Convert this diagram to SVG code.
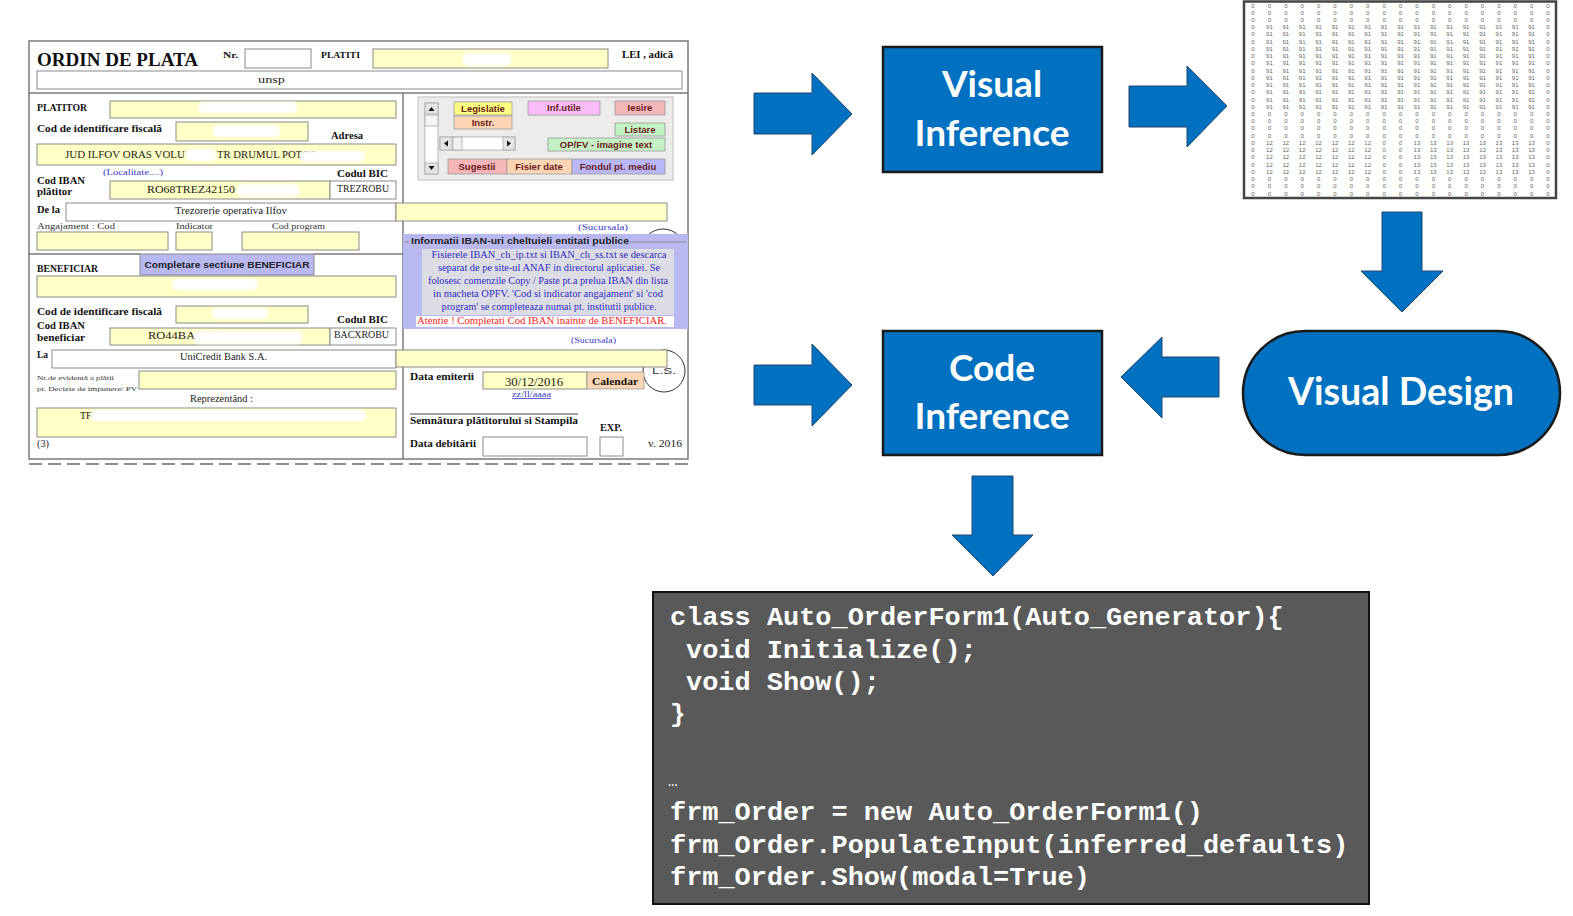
<svg xmlns="http://www.w3.org/2000/svg" width="1573" height="916" viewBox="0 0 1573 916">
<style>
.lbl{font-family:"Liberation Serif",serif;font-weight:bold;font-size:10.5px;fill:#111}
.txt{font-family:"Liberation Serif",serif;font-size:10px;fill:#222}
.sm{font-family:"Liberation Serif",serif;font-size:8.5px;fill:#333}
.blue{font-family:"Liberation Serif",serif;font-size:8.5px;fill:#3636c8}
.yf{fill:#ffffc6;stroke:#8a8a8a;stroke-width:1}
.wf{fill:#fff;stroke:#8a8a8a;stroke-width:1}
.frame{fill:none;stroke:#7a7a7a;stroke-width:1.5}
.patch{fill:#fff;filter:url(#blur)}
.btn{stroke:#9a9a9a;stroke-width:0.8}
.bt{font-family:"Liberation Sans",sans-serif;font-weight:bold;font-size:9.5px;fill:#6a1b1b;text-anchor:middle}
.it{font-family:"Liberation Serif",serif;font-size:9.3px;fill:#2e2ec4;text-anchor:middle}
.arrow{fill:#0070c0;stroke:#24466e;stroke-width:1}
.node{fill:#0070c0;stroke:#1a1a1a;stroke-width:2.5}
.ntxt{font-family:Lato,"Open Sans",sans-serif;font-weight:bold;font-size:37px;fill:#fff;text-anchor:middle}
.code{font-family:"Liberation Mono",monospace;font-size:26px;font-weight:bold;fill:#fff}
.mx{font-family:"Liberation Sans",sans-serif;font-size:6px;fill:#666;text-anchor:middle}
</style>
<defs>
<filter id="blur" x="-20%" y="-50%" width="140%" height="200%"><feGaussianBlur stdDeviation="1.2"/></filter>
<g id="rz" class="mx">
<text x="1253">0</text><text x="1269.4">0</text><text x="1285.8">0</text><text x="1302.2">0</text><text x="1318.6">0</text><text x="1335">0</text><text x="1351.3">0</text><text x="1367.7">0</text><text x="1384.1">0</text><text x="1400.5">0</text><text x="1416.9">0</text><text x="1433.3">0</text><text x="1449.7">0</text><text x="1466.1">0</text><text x="1482.5">0</text><text x="1498.9">0</text><text x="1515.2">0</text><text x="1531.6">0</text><text x="1548">0</text>
</g>
<g id="r91" class="mx">
<text x="1253">0</text><text x="1269.4">91</text><text x="1285.8">91</text><text x="1302.2">91</text><text x="1318.6">91</text><text x="1335">91</text><text x="1351.3">91</text><text x="1367.7">91</text><text x="1384.1">91</text><text x="1400.5">91</text><text x="1416.9">91</text><text x="1433.3">91</text><text x="1449.7">91</text><text x="1466.1">91</text><text x="1482.5">91</text><text x="1498.9">91</text><text x="1515.2">91</text><text x="1531.6">91</text><text x="1548">0</text>
</g>
<g id="r12" class="mx">
<text x="1253">0</text><text x="1269.4">12</text><text x="1285.8">12</text><text x="1302.2">12</text><text x="1318.6">12</text><text x="1335">12</text><text x="1351.3">12</text><text x="1367.7">12</text><text x="1384.1">0</text><text x="1400.5">0</text><text x="1416.9">13</text><text x="1433.3">13</text><text x="1449.7">13</text><text x="1466.1">13</text><text x="1482.5">13</text><text x="1498.9">13</text><text x="1515.2">13</text><text x="1531.6">13</text><text x="1548">0</text>
</g>
</defs>
<rect width="1573" height="916" fill="#fff"/>

<!-- Payment order form screenshot -->
<g id="form">
  <rect x="29" y="41" width="659" height="418" fill="#fff" class="frame"/>
  <line x1="29" y1="93" x2="688" y2="93" stroke="#7a7a7a" stroke-width="1.5"/>
  <line x1="403" y1="93" x2="403" y2="459" stroke="#7a7a7a" stroke-width="1.5"/>
  <line x1="29" y1="254" x2="140" y2="254" stroke="#7a7a7a" stroke-width="1.5"/>
  <line x1="314" y1="254" x2="403" y2="254" stroke="#7a7a7a" stroke-width="1.5"/>
  <line x1="29" y1="464" x2="688" y2="464" stroke="#6a6a6a" stroke-width="1.5" stroke-dasharray="13 6"/>

  <!-- header -->
  <text x="37" y="66" font-family="Liberation Serif, serif" font-weight="bold" font-size="18.7" fill="#111" textLength="161" lengthAdjust="spacingAndGlyphs">ORDIN DE PLATA</text>
  <text x="223" y="58" class="lbl" style="font-size:9px" textLength="15" lengthAdjust="spacingAndGlyphs">Nr.</text>
  <rect x="245" y="49" width="66" height="19" class="wf"/>
  <text x="321" y="58" class="lbl" style="font-size:9px" textLength="39" lengthAdjust="spacingAndGlyphs">PLATITI</text>
  <rect x="373" y="49" width="235" height="19" class="yf"/>
  <rect x="463" y="53" width="48" height="13" rx="5" class="patch"/>
  <text x="622" y="58" class="lbl" style="font-size:9.5px" textLength="51" lengthAdjust="spacingAndGlyphs">LEI , adică</text>
  <rect x="37" y="71" width="645" height="18" class="wf"/>
  <text x="258" y="83" class="txt" textLength="27" lengthAdjust="spacingAndGlyphs">unsp</text>

  <!-- platitor -->
  <text x="37" y="111" class="lbl" textLength="50" lengthAdjust="spacingAndGlyphs">PLATITOR</text>
  <rect x="110" y="101" width="286" height="17" class="yf"/>
  <rect x="198" y="102" width="99" height="11" rx="5" class="patch"/>
  <text x="37" y="132" class="lbl" textLength="125" lengthAdjust="spacingAndGlyphs">Cod de identificare fiscală</text>
  <rect x="176" y="122" width="132" height="19" class="yf"/>
  <rect x="213" y="125" width="67" height="12" rx="5" class="patch"/>
  <text x="331" y="139" class="lbl" textLength="32" lengthAdjust="spacingAndGlyphs">Adresa</text>
  <rect x="37" y="144" width="359" height="21" class="yf"/>
  <text x="65" y="158" class="txt" textLength="120" lengthAdjust="spacingAndGlyphs">JUD ILFOV ORAS VOLU</text>
  <text x="217" y="158" class="txt" textLength="100" lengthAdjust="spacingAndGlyphs">TR DRUMUL POTCO</text>
  <rect x="186" y="149" width="30" height="12" rx="5" class="patch"/>
  <rect x="300" y="151" width="65" height="11" rx="5" class="patch"/>
  <text x="103" y="175" class="blue" textLength="60" lengthAdjust="spacingAndGlyphs">(Localitate....)</text>
  <text x="37" y="184" class="lbl" textLength="48" lengthAdjust="spacingAndGlyphs">Cod IBAN</text>
  <text x="37" y="195" class="lbl" textLength="35" lengthAdjust="spacingAndGlyphs">plătitor</text>
  <text x="337" y="177" class="lbl" textLength="51" lengthAdjust="spacingAndGlyphs">Codul BIC</text>
  <rect x="110" y="181" width="220" height="18" class="yf"/>
  <text x="147" y="193" class="txt" textLength="88" lengthAdjust="spacingAndGlyphs">RO68TREZ42150</text>
  <rect x="237" y="184" width="62" height="13" rx="5" class="patch"/>
  <rect x="330" y="181" width="66" height="18" class="wf"/>
  <text x="337" y="192" class="txt" textLength="52" lengthAdjust="spacingAndGlyphs">TREZROBU</text>
  <text x="37" y="213" class="lbl" textLength="23" lengthAdjust="spacingAndGlyphs">De la</text>
  <rect x="66" y="203" width="330" height="18" class="wf"/>
  <text x="175" y="214" class="txt" textLength="112" lengthAdjust="spacingAndGlyphs">Trezorerie operativa Ilfov</text>
  <rect x="396" y="203" width="271" height="18" class="yf"/>
  <text x="37" y="229" class="sm" textLength="78" lengthAdjust="spacingAndGlyphs">Angajament :  Cod</text>
  <text x="176" y="229" class="sm" textLength="37" lengthAdjust="spacingAndGlyphs">Indicator</text>
  <text x="272" y="229" class="sm" textLength="53" lengthAdjust="spacingAndGlyphs">Cod program</text>
  <rect x="37" y="232" width="131" height="18" class="yf"/>
  <rect x="176" y="232" width="36" height="18" class="yf"/>
  <rect x="242" y="232" width="117" height="18" class="yf"/>

  <!-- beneficiar -->
  <text x="37" y="272" class="lbl" textLength="61" lengthAdjust="spacingAndGlyphs">BENEFICIAR</text>
  <rect x="140" y="254" width="174" height="21" fill="#b9b9f2" stroke="#8a8a8a"/>
  <text x="227" y="268" class="bt" style="fill:#222" textLength="165" lengthAdjust="spacingAndGlyphs">Completare sectiune BENEFICIAR</text>
  <rect x="37" y="276" width="359" height="21" class="yf"/>
  <rect x="172" y="279" width="86" height="11" rx="5" class="patch"/>
  <text x="37" y="315" class="lbl" textLength="125" lengthAdjust="spacingAndGlyphs">Cod de identificare fiscală</text>
  <rect x="176" y="306" width="132" height="17" class="yf"/>
  <rect x="212" y="308" width="56" height="11" rx="5" class="patch"/>
  <text x="337" y="323" class="lbl" textLength="51" lengthAdjust="spacingAndGlyphs">Codul BIC</text>
  <text x="37" y="329" class="lbl" textLength="48" lengthAdjust="spacingAndGlyphs">Cod IBAN</text>
  <text x="37" y="341" class="lbl" textLength="48" lengthAdjust="spacingAndGlyphs">beneficiar</text>
  <rect x="110" y="328" width="220" height="17" class="yf"/>
  <text x="148" y="339" class="txt" textLength="77" lengthAdjust="spacingAndGlyphs">RO44BACX00</text>
  <rect x="194" y="331" width="108" height="13" rx="5" class="patch"/>
  <rect x="330" y="328" width="66" height="17" class="wf"/>
  <text x="334" y="338" class="txt" textLength="55" lengthAdjust="spacingAndGlyphs">BACXROBU</text>
  <text x="37" y="358" class="lbl" textLength="11" lengthAdjust="spacingAndGlyphs">La</text>
  <rect x="52" y="350" width="344" height="18" class="wf"/>
  <text x="180" y="360" class="txt" textLength="87" lengthAdjust="spacingAndGlyphs">UniCredit Bank S.A.</text>
  <text x="37" y="380" class="sm" style="font-size:7px" textLength="77" lengthAdjust="spacingAndGlyphs">Nr.de evidentă a plătii</text>
  <text x="37" y="391" class="sm" style="font-size:7px" textLength="100" lengthAdjust="spacingAndGlyphs">pt. Decizie de impunere/ PV</text>
  <rect x="139" y="371" width="257" height="18" class="yf"/>
  <text x="190" y="402" class="txt" textLength="63" lengthAdjust="spacingAndGlyphs">Reprezentând :</text>
  <rect x="37" y="408" width="359" height="29" class="yf"/>
  <text x="80" y="419" class="txt">TF</text>
  <rect x="91" y="410" width="275" height="11" rx="5" class="patch"/>
  <text x="37" y="447" class="txt" textLength="12" lengthAdjust="spacingAndGlyphs">(3)</text>

  <!-- right side: button panel -->
  <rect x="418" y="97" width="255" height="83" fill="#ececec" stroke="#bdbdbd"/>
  <rect x="425" y="103" width="13" height="71" fill="#fff" stroke="#a8a8a8" stroke-width="0.8"/>
  <rect x="425" y="103" width="13" height="11" fill="#e4e4e4" stroke="#a8a8a8" stroke-width="0.8"/>
  <path d="M428.5,111 L431.5,107 L434.5,111 Z" fill="#111"/>
  <rect x="425" y="115" width="13" height="11" fill="#f6f6f6" stroke="#a8a8a8" stroke-width="0.8"/>
  <rect x="425" y="163" width="13" height="11" fill="#e4e4e4" stroke="#a8a8a8" stroke-width="0.8"/>
  <path d="M428.5,166 L431.5,170 L434.5,166 Z" fill="#111"/>
  <rect x="440" y="137" width="75" height="13" fill="#fff" stroke="#a8a8a8" stroke-width="0.8"/>
  <rect x="440" y="137" width="12" height="13" fill="#e4e4e4" stroke="#a8a8a8" stroke-width="0.8"/>
  <path d="M448,140.5 L444,143.5 L448,146.5 Z" fill="#111"/>
  <rect x="453" y="137" width="9" height="13" fill="#f2f2f2" stroke="#a8a8a8" stroke-width="0.8"/>
  <rect x="503" y="137" width="12" height="13" fill="#e4e4e4" stroke="#a8a8a8" stroke-width="0.8"/>
  <path d="M507,140.5 L511,143.5 L507,146.5 Z" fill="#111"/>
  <rect x="454" y="102" width="58" height="13" fill="#ffff80" class="btn"/>
  <text x="483" y="112" class="bt">Legislatie</text>
  <rect x="454" y="116" width="58" height="13" fill="#fcd5b4" class="btn"/>
  <text x="483" y="126" class="bt">Instr.</text>
  <rect x="528" y="101" width="72" height="14" fill="#f8bdf8" class="btn"/>
  <text x="564" y="111" class="bt">Inf.utile</text>
  <rect x="615" y="101" width="50" height="14" fill="#f4b6b6" class="btn"/>
  <text x="640" y="111" class="bt">Iesire</text>
  <rect x="615" y="123" width="50" height="13" fill="#c4f2c4" class="btn"/>
  <text x="640" y="133" class="bt">Listare</text>
  <rect x="548" y="138" width="117" height="13" fill="#c4f2c4" class="btn"/>
  <text x="606" y="148" class="bt">OP/FV - imagine text</text>
  <rect x="448" y="159" width="59" height="15" fill="#f4b6b6" class="btn"/>
  <text x="477" y="170" class="bt">Sugestii</text>
  <rect x="507" y="159" width="65" height="15" fill="#fcd5b4" class="btn"/>
  <text x="539" y="170" class="bt">Fisier date</text>
  <rect x="572" y="159" width="93" height="15" fill="#b8b8f8" class="btn"/>
  <text x="618" y="170" class="bt">Fondul pt. mediu</text>

  <text x="578" y="230" class="blue" style="font-size:8px" textLength="50" lengthAdjust="spacingAndGlyphs">(Sucursala)</text>
  <circle cx="663" cy="251" r="22" fill="none" stroke="#333" stroke-width="1"/>

  <!-- info panel -->
  <rect x="403" y="234" width="285" height="95" fill="#b9b9f2"/>
  <line x1="405" y1="242" x2="409" y2="242" stroke="#8a8a8a"/>
  <line x1="630" y1="242" x2="686" y2="242" stroke="#8a8a8a"/>
  <text x="411" y="244" font-family="Liberation Sans, sans-serif" font-weight="bold" font-size="9.5" fill="#222" textLength="218" lengthAdjust="spacingAndGlyphs">Informatii IBAN-uri cheltuieli entitati publice</text>
  <rect x="422" y="249" width="252" height="66" fill="#dcdce4"/>
  <rect x="416" y="316" width="258" height="11" fill="#fff"/>
  <text x="549" y="258" class="it" textLength="235" lengthAdjust="spacingAndGlyphs">Fisierele IBAN_ch_ip.txt si IBAN_ch_ss.txt se descarca</text>
  <text x="549" y="271" class="it" textLength="222" lengthAdjust="spacingAndGlyphs">separat de pe site-ul ANAF in directorul aplicatiei. Se</text>
  <text x="548" y="284" class="it" textLength="240" lengthAdjust="spacingAndGlyphs">folosesc comenzile Copy / Paste pt.a prelua IBAN din lista</text>
  <text x="548" y="297" class="it" textLength="230" lengthAdjust="spacingAndGlyphs">in macheta OPFV. 'Cod si indicator angajament' si 'cod</text>
  <text x="549" y="310" class="it" textLength="215" lengthAdjust="spacingAndGlyphs">program' se completeaza numai pt. institutii publice.</text>
  <text x="542" y="324" class="it" style="fill:#ff2424" textLength="250" lengthAdjust="spacingAndGlyphs">Atentie ! Completati  Cod IBAN  inainte de BENEFICIAR.</text>

  <text x="571" y="343" class="blue" style="font-size:8px" textLength="45" lengthAdjust="spacingAndGlyphs">(Sucursala)</text>
  <circle cx="664" cy="371" r="21" fill="none" stroke="#333" stroke-width="1"/>
  <rect x="396" y="350" width="271" height="17" class="yf"/>
  <text x="652" y="374" font-family="Liberation Sans, sans-serif" font-size="8.5" fill="#333" textLength="24" lengthAdjust="spacingAndGlyphs">L.S.</text>
  <text x="410" y="380" class="lbl" textLength="64" lengthAdjust="spacingAndGlyphs">Data emiterii</text>
  <rect x="483" y="372" width="104" height="17" class="yf"/>
  <text x="505" y="385.5" class="txt" style="font-size:12.5px" textLength="58" lengthAdjust="spacingAndGlyphs">30/12/2016</text>
  <rect x="587" y="372" width="57" height="17" fill="#fcd5b4" stroke="#9a9a9a" stroke-width="0.8"/>
  <text x="592" y="384.5" class="lbl" style="font-size:11px" textLength="46" lengthAdjust="spacingAndGlyphs">Calendar</text>
  <text x="512" y="397" class="blue" style="font-size:8px" text-decoration="underline" textLength="39" lengthAdjust="spacingAndGlyphs">zz/ll/aaaa</text>
  <line x1="410" y1="414" x2="578" y2="414" stroke="#444" stroke-width="1"/>
  <text x="410" y="424" class="lbl" textLength="168" lengthAdjust="spacingAndGlyphs">Semnătura plătitorului si Stampila</text>
  <text x="600" y="431" class="lbl" style="font-size:9.5px" textLength="22" lengthAdjust="spacingAndGlyphs">EXP.</text>
  <text x="410" y="447" class="lbl" textLength="66" lengthAdjust="spacingAndGlyphs">Data debitării</text>
  <rect x="483" y="437" width="104" height="19" class="wf"/>
  <rect x="600" y="437" width="23" height="19" class="wf"/>
  <text x="648" y="447" class="txt" textLength="34" lengthAdjust="spacingAndGlyphs">v. 2016</text>
</g>

<!-- inferred label matrix -->
<g id="matrix">
  <rect x="1244" y="1.5" width="312" height="196.5" fill="#fff" stroke="#444" stroke-width="2.5"/>
  <use href="#rz" y="7.5"/><use href="#rz" y="14.7"/><use href="#rz" y="22"/>
  <use href="#r91" y="29.2"/><use href="#r91" y="36.4"/><use href="#r91" y="43.7"/><use href="#r91" y="50.9"/><use href="#r91" y="58.1"/><use href="#r91" y="65.3"/><use href="#r91" y="72.6"/><use href="#r91" y="79.8"/><use href="#r91" y="87"/><use href="#r91" y="94.3"/><use href="#r91" y="101.5"/><use href="#r91" y="108.7"/>
  <use href="#rz" y="115.9"/><use href="#rz" y="123.2"/><use href="#rz" y="130.4"/><use href="#rz" y="137.6"/>
  <use href="#r12" y="144.9"/><use href="#r12" y="152.1"/><use href="#r12" y="159.3"/><use href="#r12" y="166.6"/><use href="#r12" y="173.8"/>
  <use href="#rz" y="181"/><use href="#rz" y="188.2"/><use href="#rz" y="195.5"/>
</g>

<g id="visual-inference">
  <rect x="883" y="47" width="219" height="125" class="node"/>
  <text x="992" y="97" class="ntxt">Visual</text>
  <text x="992" y="146" class="ntxt">Inference</text>
</g>

<g id="code-inference">
  <rect x="883" y="331" width="219" height="124" class="node"/>
  <text x="992" y="381" class="ntxt">Code</text>
  <text x="992" y="429" class="ntxt">Inference</text>
</g>

<g id="visual-design">
  <rect x="1243" y="331" width="317" height="124" rx="62" ry="62" class="node"/>
  <text x="1401" y="405" class="ntxt" style="font-size:37.5px">Visual Design</text>
</g>

<g id="generated-code">
  <rect x="653" y="592" width="716" height="312" fill="#595959" stroke="#111" stroke-width="2"/>
  <text x="670" y="625" class="code" textLength="613.7" lengthAdjust="spacingAndGlyphs">class Auto_OrderForm1(Auto_Generator){</text>
  <text x="686" y="658" class="code" textLength="290.7" lengthAdjust="spacingAndGlyphs">void Initialize();</text>
  <text x="686" y="690" class="code" textLength="193.8" lengthAdjust="spacingAndGlyphs">void Show();</text>
  <text x="670" y="722" class="code">}</text>
  <text x="668" y="786" class="code" style="font-size:16px;font-weight:normal">…</text>
  <text x="670" y="820" class="code" textLength="533" lengthAdjust="spacingAndGlyphs">frm_Order = new Auto_OrderForm1()</text>
  <text x="670" y="853" class="code" textLength="678.3" lengthAdjust="spacingAndGlyphs">frm_Order.PopulateInput(inferred_defaults)</text>
  <text x="670" y="885" class="code" textLength="419.9" lengthAdjust="spacingAndGlyphs">frm_Order.Show(modal=True)</text>
</g>

<g id="connectors">
  <polygon class="arrow" points="754,93 812,93 812,73 852,114 812,155 812,134 754,134"/>
  <polygon class="arrow" points="1129,86 1187,86 1187,66 1227,106 1187,147 1187,127 1129,127"/>
  <polygon class="arrow" points="1382,212 1422,212 1422,271 1443,271 1402,312 1361,271 1382,271"/>
  <polygon class="arrow" points="1219,357 1162,357 1162,337 1121,377 1162,418 1162,397 1219,397"/>
  <polygon class="arrow" points="754,365 812,365 812,344 852,385 812,426 812,405 754,405"/>
  <polygon class="arrow" points="972,476 1013,476 1013,535 1033,535 993,576 952,535 972,535"/>
</g>
</svg>
